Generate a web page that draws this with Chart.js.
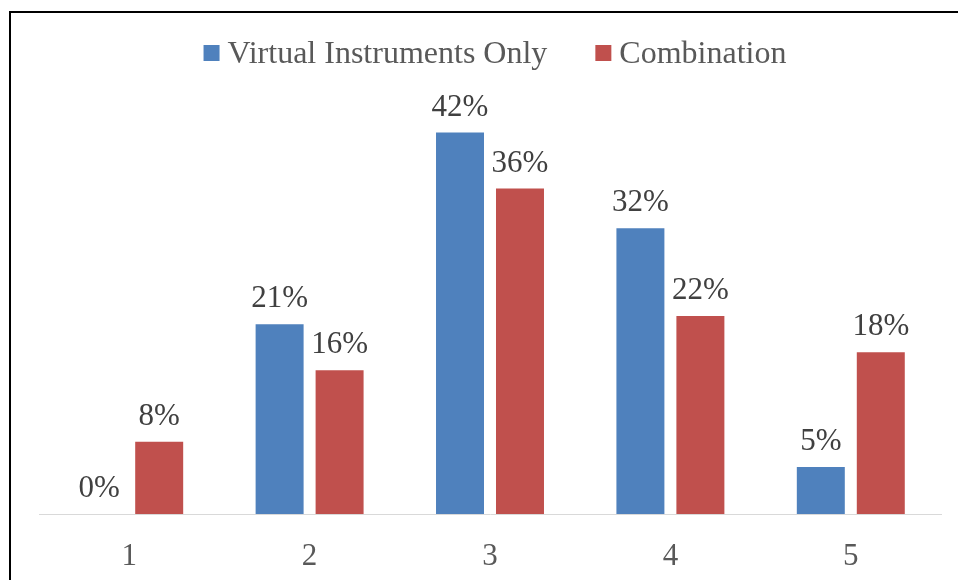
<!DOCTYPE html>
<html>
<head>
<meta charset="utf-8">
<script src="https://cdn.jsdelivr.net/npm/chart.js@4.4.1/dist/chart.umd.min.js"></script>
<style>
  html, body { margin: 0; padding: 0; background: #fff; overflow: hidden; }
  #frame { position: absolute; left: 9px; top: 11px; width: 1100px; height: 1100px; border: 2px solid #000; box-sizing: border-box; }
  #wrap { position: absolute; left: 0; top: 0; width: 958px; height: 580px; }
</style>
</head>
<body>
<div id="frame"></div>
<div id="wrap"><canvas id="chart"></canvas></div>
<script>
'use strict';

// categories and series
var categories = ['1', '2', '3', '4', '5'];
var virtualOnly = [0, 21.0, 42.2, 31.6, 5.2];
var combination = [8.0, 15.9, 36.0, 21.9, 17.9];
var seriesNames = ['Virtual Instruments Only', 'Combination'];

var FONT = "'Liberation Serif', 'Times New Roman', serif";

// percent labels above each bar
var barLabels = {
    id: 'barLabels',
    afterDatasetsDraw: function(chart) {
        var ctx = chart.ctx;
        ctx.save();
        ctx.font = '31px ' + FONT;
        ctx.fillStyle = '#404040';
        ctx.textAlign = 'center';
        ctx.textBaseline = 'alphabetic';
        chart.data.datasets.forEach(function(ds, i) {
            chart.getDatasetMeta(i).data.forEach(function(bar, j) {
                ctx.fillText(Math.round(ds.data[j]) + '%', bar.x, bar.y - 17);
            });
        });
        ctx.restore();
    }
};

// legend drawn by hand so the swatch/text spacing matches
var topLegend = {
    id: 'topLegend',
    afterDraw: function(chart) {
        var ctx = chart.ctx;
        ctx.save();
        ctx.font = '32px ' + FONT;
        var box = 16, gapText = 8, gapItem = 48;
        var widths = chart.data.datasets.map(ds => ctx.measureText(ds.label).width);
        var total = widths.reduce((a, w) => a + box + gapText + w, 0) + gapItem * (widths.length - 1);
        var x = 495 - total / 2;
        chart.data.datasets.forEach(function(ds, i) {
            ctx.fillStyle = ds.backgroundColor;
            ctx.fillRect(x, 45, box, box);
            x += box + gapText;
            ctx.fillStyle = '#595959';
            ctx.textBaseline = 'alphabetic';
            ctx.fillText(ds.label, x, 63);
            x += widths[i] + gapItem;
        });
        ctx.restore();
    }
};

var chart = new Chart(document.getElementById('chart'), {
    type: 'bar',
    data: {
        labels: categories,
        datasets: [
            { label: seriesNames[0], data: virtualOnly, backgroundColor: '#4F81BD' },
            { label: seriesNames[1], data: combination, backgroundColor: '#C0504D' }
        ]
    },
    options: {
        responsive: true,
        maintainAspectRatio: false,
        animation: false,
        categoryPercentage: 0.665,
        barPercentage: 0.8,
        layout: { padding: { top: 62, left: 39, right: 17, bottom: 0 } },
        plugins: {
            legend: { display: false },
            tooltip: { enabled: false }
        },
        scales: {
            x: {
                grid: { display: false },
                border: { display: true, color: '#d9d9d9', width: 1 },
                ticks: { color: '#595959', font: { family: FONT, size: 31 }, padding: 16 },
                afterFit: function(s) { s.height = 66; }
            },
            y: {
                display: false,
                min: 0,
                max: 50
            }
        }
    },
    plugins: [barLabels, topLegend]
});
</script>
</body>
</html>
